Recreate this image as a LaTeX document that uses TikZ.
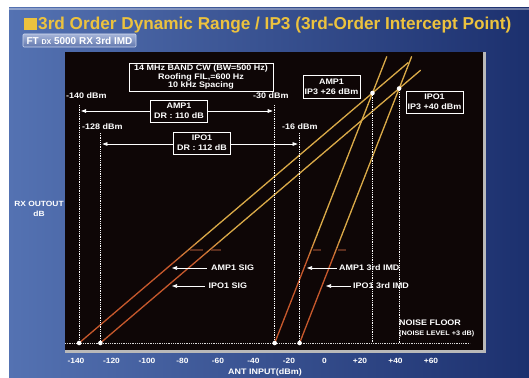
\documentclass[tikz,border=0pt]{standalone}
\usepackage{fontspec}
\setmainfont{Liberation Sans}
\newfontfamily\labfont[FakeStretch=1.12]{Liberation Sans}
\usetikzlibrary{arrows.meta}
\definecolor{gold}{RGB}{218,170,72}
\definecolor{rust}{RGB}{198,88,44}
\definecolor{ttl}{RGB}{236,194,62}
\definecolor{plotbg}{RGB}{14,6,6}
\definecolor{blueL}{RGB}{84,114,178}
\definecolor{blueR}{RGB}{28,48,110}
\definecolor{dashmark}{RGB}{92,46,30}
\newcommand\gradline[4]{%
  \foreach \k in {0,...,47}{%
    \pgfmathsetmacro\ta{\k/48}%
    \pgfmathsetmacro\tb{(\k+1)/48}%
    \pgfmathsetmacro\xa{#1+(#3-#1)*\ta}%
    \pgfmathsetmacro\ya{#2+(#4-#2)*\ta}%
    \pgfmathsetmacro\xb{#1+(#3-#1)*\tb}%
    \pgfmathsetmacro\yb{#2+(#4-#2)*\tb}%
    \pgfmathtruncatemacro\mm{max(0,min(100,(262-(\ya+\yb)/2)*4))}%
    \draw[sigline, draw=gold!\mm!rust] (\xa,\ya) -- (\xb,\yb);
  }}
\tikzset{
  sigline/.style={line width=1.3pt, line cap=round},
  vdot/.style={draw=white, line width=0.65pt, dash pattern=on 0.9pt off 0.9pt},
  ipt/.style={circle, fill=white, inner sep=0pt, minimum size=4.6pt},
  lbl/.style={text=white, inner sep=0pt, font=\labfont\bfseries\fontsize{8}{9.5}\selectfont},
  ticklbl/.style={text=white, inner sep=0pt, font=\labfont\bfseries\fontsize{7.5}{9}\selectfont},
  wbox/.style={draw=white, line width=0.7pt, fill=plotbg, text=white, align=center, inner sep=1pt,
    minimum width=57pt, minimum height=22pt, font=\labfont\bfseries\fontsize{8}{10}\selectfont},
  ptr/.style={white, line width=0.7pt, -{Triangle[length=5pt,width=3.6pt]}},
  dimarr/.style={white, line width=0.7pt, {Triangle[length=5pt,width=3.6pt]}-{Triangle[length=5pt,width=3.6pt]}},
  tickmark/.style={draw=dashmark, line width=1.2pt},
}
\begin{document}
\begin{tikzpicture}[x=1pt,y=-1pt]
\useasboundingbox (0,0) rectangle (529,377);
\fill[white] (0,0) rectangle (529,377);
% blue panel
\shade[left color=blueL, right color=blueR] (9,8) rectangle (529,377);
\fill[white,opacity=0.35] (9,8) rectangle (529,10.5);
% title
\fill[ttl] (24.3,18.3) rectangle (36.7,30.5);
\node[anchor=base west, inner sep=0pt, text=ttl, font=\bfseries\fontsize{17.2}{19}\selectfont] (title) at (38,30) {3rd Order Dynamic Range / IP3 (3rd-Order Intercept Point)};
\node[top color={rgb,255:red,165;green,180;blue,215}, bottom color={rgb,255:red,98;green,120;blue,175},
  draw={rgb,255:red,205;green,215;blue,238}, line width=0.6pt, rounded corners=1pt,
  minimum width=113pt, minimum height=13pt, inner sep=0pt, text=white,
  font=\bfseries\fontsize{10}{11}\selectfont] (sub) at (79.5,40.5) {FT {\fontsize{7}{8}\selectfont DX} 5000 RX 3rd IMD};
% plot area
\fill[plotbg] (65,52) rectangle (483,350);
\fill[gray!55] (65,350) rectangle (486,353);
\fill[gray!55] (483,52) rectangle (486,353);
% axis labels
\node[lbl, font=\labfont\bfseries\fontsize{7.5}{9.5}\selectfont, align=center] (ylab) at (39,209) {RX OUTOUT\\dB};
\foreach \d/\t in {-140/-140,-120/-120,-100/-100,-80/-80,-60/-60,-40/-40,-20/-20,0/0,20/+20,40/+40,60/+60}{
  \node[ticklbl] (tk\t) at ({324.5+1.775*\d},361) {\t};
}
\node[lbl] (xlab) at (265,372) {ANT INPUT(dBm)};
% key coordinates
\coordinate (nfL) at (65,343);
\coordinate (nfR) at (470,343);
\coordinate (sA0) at (79.1,343);  \coordinate (sA1) at (408,62.7);
\coordinate (sI0) at (100.4,343); \coordinate (sI1) at (420.5,70.3);
\coordinate (mA0) at (274.7,343); \coordinate (mA1) at (386.7,56.7);
\coordinate (mI0) at (299.6,343); \coordinate (mI1) at (411.6,56.7);
\coordinate (ipA) at (372.5,93);  \coordinate (ipAb) at (372.5,343);
\coordinate (ipI) at (399.1,88.5); \coordinate (ipIb) at (399.1,343);
% signal and IMD lines
\gradline{79.1}{343}{408}{62.7}
\gradline{100.4}{343}{420.5}{70.3}
\gradline{274.7}{343}{386.7}{56.7}
\gradline{299.6}{343}{411.6}{56.7}
% small marks
\draw[tickmark] (190,250) -- (203,250);
\draw[tickmark] (211,250) -- (221,250);
\draw[tickmark] (313,250) -- (321,250);
\draw[tickmark] (338,250) -- (346,250);
% dotted lines
\draw[vdot, draw=white!85!black] (nfL) -- (nfR);
\coordinate (v140) at (79.1,105);  \draw[vdot] (v140) -- (sA0);
\coordinate (v30) at (274.7,105);  \draw[vdot] (v30) -- (mA0);
\coordinate (v128) at (100.4,133); \draw[vdot] (v128) -- (sI0);
\coordinate (v16) at (299.6,133);  \draw[vdot] (v16) -- (mI0);
\draw[vdot] (ipA) -- (ipAb);
\draw[vdot] (ipI) -- (ipIb);
% points
\foreach \p in {sA0,sI0,mA0,mI0,ipA,ipI}{\node[ipt] at (\p) {};}
% dBm labels
\node[lbl, anchor=west] (l140) at (66,96) {-140 dBm};
\node[lbl, anchor=west] (l30) at (253,96) {-30 dBm};
\node[lbl, anchor=west] (l128) at (82,127) {-128 dBm};
\node[lbl, anchor=west] (l16) at (282,127) {-16 dBm};
% dynamic range arrows
\coordinate (d1a) at (79.1,111); \coordinate (d1b) at (274.7,111);
\draw[dimarr, shorten <=2pt, shorten >=2pt] (d1a) -- (d1b);
\node[wbox] (dr1) at (179,111) {AMP1\\DR : 110 dB};
\coordinate (d2a) at (100.4,144); \coordinate (d2b) at (299.6,144);
\draw[dimarr, shorten <=2pt, shorten >=2pt] (d2a) -- (d2b);
\node[wbox] (dr2) at (202,143) {IPO1\\DR : 112 dB};
% condition box
\node[wbox, minimum width=144pt, minimum height=28pt, font=\labfont\bfseries\fontsize{8}{8.7}\selectfont] (cond) at (201,77) {14 MHz BAND CW (BW=500 Hz)\\Roofing FIL,=600 Hz\\10 kHz Spacing};
% IP3 boxes
\node[wbox, minimum height=23pt] (ip3a) at (331.5,86.5) {AMP1\\IP3 +26 dBm};
\node[wbox] (ip3i) at (434.5,102) {IPO1\\IP3 +40 dBm};
% line labels
\node[lbl, anchor=west] (la) at (211,268) {AMP1 SIG};
\coordinate (ta) at (172,268);
\draw[ptr, shorten <=4.5pt] (la.west) -- (ta);
\node[lbl, anchor=west] (li) at (208.5,286) {IPO1 SIG};
\coordinate (ti) at (172,286);
\draw[ptr, shorten <=3.5pt] (li.west) -- (ti);
\node[lbl, anchor=west] (ma) at (339,268) {AMP1 3rd IMD};
\coordinate (tma) at (307,268);
\draw[ptr, shorten <=2pt] (ma.west) -- (tma);
\node[lbl, anchor=west] (mi) at (353,286) {IPO1 3rd IMD};
\coordinate (tmi) at (326,286);
\draw[ptr, shorten <=2pt] (mi.west) -- (tmi);
% noise floor
\node[lbl, anchor=west] (nf) at (399,323) {NOISE FLOOR};
\node[lbl, anchor=west, font=\labfont\bfseries\fontsize{6.5}{8}\selectfont] (nl) at (399,334) {(NOISE LEVEL +3 dB)};
\end{tikzpicture}
\end{document}
